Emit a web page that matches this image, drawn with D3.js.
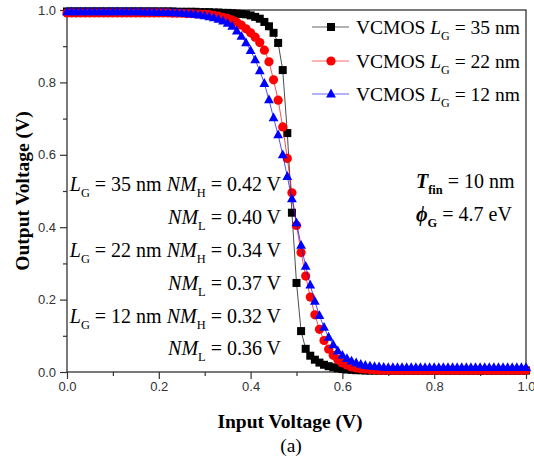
<!DOCTYPE html>
<html>
<head>
<meta charset="utf-8">
<script src="https://cdn.jsdelivr.net/npm/d3@7"></script>
<style>
  body { margin: 0; background: #fff; }
  svg { display: block; }
  .tick-label { font-family: "Liberation Sans", Arial, sans-serif; font-size: 13px; fill: #333; }
  .serif { font-family: "Liberation Serif", "Times New Roman", serif; fill: #000; }
</style>
</head>
<body>
<div id="chart"></div>
<script>
// input sweep (V)
const vin = [0.00,0.01,0.02,0.03,0.04,0.05,0.06,0.07,0.08,0.09,
  0.10,0.11,0.12,0.13,0.14,0.15,0.16,0.17,0.18,0.19,
  0.20,0.21,0.22,0.23,0.24,0.25,0.26,0.27,0.28,0.29,
  0.30,0.31,0.32,0.33,0.34,0.35,0.36,0.37,0.38,0.39,
  0.40,0.41,0.42,0.43,0.44,0.45,0.46,0.47,0.48,0.49,
  0.50,0.51,0.52,0.53,0.54,0.55,0.56,0.57,0.58,0.59,
  0.60,0.61,0.62,0.63,0.64,0.65,0.66,0.67,0.68,0.69,
  0.70,0.71,0.72,0.73,0.74,0.75,0.76,0.77,0.78,0.79,
  0.80,0.81,0.82,0.83,0.84,0.85,0.86,0.87,0.88,0.89,
  0.90,0.91,0.92,0.93,0.94,0.95,0.96,0.97,0.98,0.99,1.00];

// output voltage, LG = 35 nm
const vout35 = [0.996,0.996,0.996,0.996,0.996,0.996,0.996,0.996,0.996,0.996,
  0.996,0.996,0.996,0.996,0.996,0.996,0.996,0.996,0.996,0.996,
  0.996,0.996,0.996,0.996,0.995,0.995,0.995,0.995,0.995,0.994,
  0.994,0.994,0.993,0.993,0.992,0.992,0.991,0.990,0.989,0.988,
  0.985,0.981,0.976,0.967,0.955,0.937,0.909,0.834,0.660,0.440,
  0.246,0.113,0.064,0.045,0.034,0.026,0.020,0.016,0.013,0.010,
  0.008,0.007,0.006,0.005,0.005,0.004,0.004,0.004,0.004,0.004,
  0.004,0.004,0.004,0.004,0.004,0.004,0.004,0.004,0.004,0.004,
  0.004,0.004,0.004,0.004,0.004,0.004,0.004,0.004,0.004,0.004,
  0.004,0.004,0.004,0.004,0.004,0.004,0.004,0.004,0.004,0.004,0.004];

// output voltage, LG = 22 nm
const vout22 = [0.992,0.992,0.992,0.992,0.992,0.992,0.992,0.992,0.992,0.992,
  0.992,0.992,0.992,0.992,0.992,0.992,0.992,0.992,0.992,0.992,
  0.992,0.992,0.992,0.991,0.991,0.991,0.990,0.990,0.989,0.989,
  0.988,0.987,0.985,0.983,0.980,0.977,0.972,0.966,0.958,0.948,
  0.937,0.925,0.910,0.889,0.857,0.807,0.751,0.677,0.590,0.495,
  0.405,0.330,0.265,0.207,0.158,0.118,0.087,0.063,0.046,0.034,
  0.025,0.019,0.014,0.011,0.009,0.008,0.007,0.006,0.005,0.005,
  0.005,0.005,0.005,0.005,0.005,0.005,0.005,0.005,0.005,0.005,
  0.005,0.005,0.005,0.005,0.005,0.005,0.005,0.005,0.005,0.005,
  0.005,0.005,0.005,0.005,0.005,0.005,0.005,0.005,0.005,0.005,0.005];

// output voltage, LG = 12 nm
const vout12 = [0.995,0.995,0.995,0.995,0.995,0.995,0.995,0.995,0.995,0.995,
  0.995,0.995,0.995,0.995,0.995,0.995,0.995,0.994,0.994,0.994,
  0.993,0.993,0.993,0.992,0.992,0.991,0.990,0.989,0.988,0.986,
  0.984,0.981,0.978,0.974,0.969,0.963,0.955,0.942,0.927,0.909,
  0.888,0.862,0.832,0.797,0.752,0.702,0.655,0.600,0.540,0.478,
  0.412,0.350,0.292,0.240,0.195,0.156,0.123,0.096,0.075,0.058,
  0.046,0.037,0.030,0.025,0.021,0.018,0.016,0.015,0.014,0.013,
  0.012,0.012,0.012,0.012,0.012,0.012,0.012,0.012,0.012,0.012,
  0.012,0.012,0.012,0.012,0.012,0.012,0.012,0.012,0.012,0.012,
  0.012,0.012,0.012,0.012,0.012,0.012,0.012,0.012,0.012,0.012,0.012];

const seriesNames = ["35", "22", "12"];
const seriesColors = ["#000000", "#ff0000", "#0000ff"];
const seriesMarkers = ["square", "circle", "triangle"];
const xTicks = [0, 0.2, 0.4, 0.6, 0.8, 1.0];
const yTicks = [0, 0.2, 0.4, 0.6, 0.8, 1.0];
const nmRows = [
  ["35", "H", "0.42"], [null, "L", "0.40"],
  ["22", "H", "0.34"], [null, "L", "0.37"],
  ["12", "H", "0.32"], [null, "L", "0.36"]
];

const W = 534, H = 463;
const margin = {top: 10, right: 8, bottom: 91, left: 67};
const c = {width: W - margin.left - margin.right, height: H - margin.top - margin.bottom};

c.x = d3.scaleLinear().domain([0, 1]).range([0, c.width]);
c.y = d3.scaleLinear().domain([0, 1]).range([c.height, 0]);

const svg = d3.select('#chart').append('svg').attr('width', W).attr('height', H);
const g = svg.append('g').attr('transform', `translate(${margin.left},${margin.top})`);

const axisColor = '#333';

// frame
g.append('rect').attr('width', c.width).attr('height', c.height)
  .attr('fill', 'none').attr('stroke', axisColor).attr('stroke-width', 1.3);

// minor ticks
const minor = d3.range(0.1, 1, 0.2);
g.append('g').attr('transform', `translate(0,${c.height})`)
  .call(d3.axisBottom(c.x).tickValues(minor).tickSize(4).tickFormat(''))
  .call(a => { a.select('.domain').remove(); a.selectAll('line').attr('stroke', axisColor).attr('stroke-width', 1.2); });
g.append('g')
  .call(d3.axisLeft(c.y).tickValues(minor).tickSize(4).tickFormat(''))
  .call(a => { a.select('.domain').remove(); a.selectAll('line').attr('stroke', axisColor).attr('stroke-width', 1.2); });

// major ticks
const xa = g.append('g').attr('transform', `translate(0,${c.height})`)
  .call(d3.axisBottom(c.x).tickValues(xTicks).tickSize(7).tickPadding(3).tickFormat(d3.format('.1f')));
const ya = g.append('g')
  .call(d3.axisLeft(c.y).tickValues(yTicks).tickSize(7).tickPadding(4).tickFormat(d3.format('.1f')));
[xa, ya].forEach(a => {
  a.select('.domain').remove();
  a.selectAll('line').attr('stroke', axisColor).attr('stroke-width', 1.2);
  a.selectAll('text').attr('class', 'tick-label').attr('font-size', null).attr('font-family', null).attr('fill', null);
});

// curves
const outs = [vout35, vout22, vout12];
const line = d3.line().x(d => c.x(d[0])).y(d => c.y(d[1]));

function marker(sel, type, color) {
  if (type === 'square') {
    sel.append('rect').attr('x', -4).attr('y', -4).attr('width', 8).attr('height', 8).attr('fill', color);
  } else if (type === 'circle') {
    sel.append('circle').attr('r', 4.6).attr('fill', color);
  } else {
    sel.append('path').attr('d', 'M0,-5.4L4.9,3.4L-4.9,3.4Z').attr('fill', color);
  }
}

const curves = g.append('g');
outs.forEach((vals, i) => {
  const pts = vin.map((v, k) => [v, vals[k]]);
  const sg = curves.append('g');
  sg.append('path').attr('d', line(pts)).attr('fill', 'none')
    .attr('stroke', seriesColors[i]).attr('stroke-width', 1).attr('stroke-opacity', 0.7);
  sg.selectAll('g.m').data(pts).join('g').attr('class', 'm')
    .attr('transform', d => `translate(${c.x(d[0])},${c.y(d[1])})`)
    .each(function() { marker(d3.select(this), seriesMarkers[i], seriesColors[i]); });
});

// rich text helper: segments [text, style] where style has italic/sub
function rich(parent, x, y, segs, size, anchor, bold) {
  const t = parent.append('text').attr('class', 'serif').attr('x', x).attr('y', y)
    .attr('font-size', size).attr('text-anchor', anchor || 'start');
  if (bold) t.attr('font-weight', 'bold');
  let sub = false;
  segs.forEach(s => {
    const o = s[1] || {};
    const ts = t.append('tspan').text(s[0]);
    if (o.italic) ts.attr('font-style', 'italic');
    if (o.sub && !sub) { ts.attr('dy', size * 0.3).attr('font-size', size * 0.62); sub = true; }
    else if (!o.sub && sub) { ts.attr('dy', -size * 0.3); sub = false; }
    else if (o.sub) ts.attr('font-size', size * 0.62);
  });
  return t;
}

// legend
const lg = svg.append('g');
const legY = [27, 61, 94];
seriesNames.forEach((n, i) => {
  lg.append('line').attr('x1', 312).attr('x2', 349).attr('y1', legY[i]).attr('y2', legY[i])
    .attr('stroke', seriesColors[i]).attr('stroke-width', 1).attr('stroke-opacity', 0.6);
  const m = lg.append('g').attr('transform', `translate(331,${legY[i]})`);
  marker(m, seriesMarkers[i], seriesColors[i]);
  rich(lg, 356, legY[i] + 7, [["VCMOS "], ["L", {italic: true}], ["G", {sub: true}], [" = " + n + " nm"]], 19.5);
});

// noise margin annotations
const nmY = [191, 224, 257, 290, 323, 355];
nmRows.forEach((r, i) => {
  const segs = [];
  if (r[0]) segs.push(["L", {italic: true}], ["G", {sub: true}], [" = " + r[0] + " nm "]);
  segs.push(["NM", {italic: true}], [r[1], {sub: true}], [" = " + r[2] + " V"]);
  rich(svg, 281, nmY[i], segs, 20, 'end');
});

// device parameters
const tt = rich(svg, 416, 188, [["T", {italic: true}], ["fin", {sub: true}], [" "]], 20, 'start', true);
tt.append('tspan').attr('font-weight', 'normal').text('= 10 nm');
const pt = rich(svg, 416, 221, [["\u03d5", {italic: true}], ["G", {sub: true}], [" "]], 20, 'start', true);
pt.append('tspan').attr('font-weight', 'normal').text('= 4.7 eV');

// axis titles
svg.append('text').attr('class', 'serif').attr('font-weight', 'bold').attr('font-size', 19.5)
  .attr('text-anchor', 'middle').attr('transform', 'translate(29,191) rotate(-90)')
  .text('Output Voltage (V)');
svg.append('text').attr('class', 'serif').attr('font-weight', 'bold').attr('font-size', 19.5)
  .attr('text-anchor', 'middle').attr('x', 290).attr('y', 428).text('Input Voltage (V)');
svg.append('text').attr('class', 'serif').attr('font-size', 19.5)
  .attr('text-anchor', 'middle').attr('x', 291).attr('y', 452).text('(a)');
</script>
</body>
</html>
